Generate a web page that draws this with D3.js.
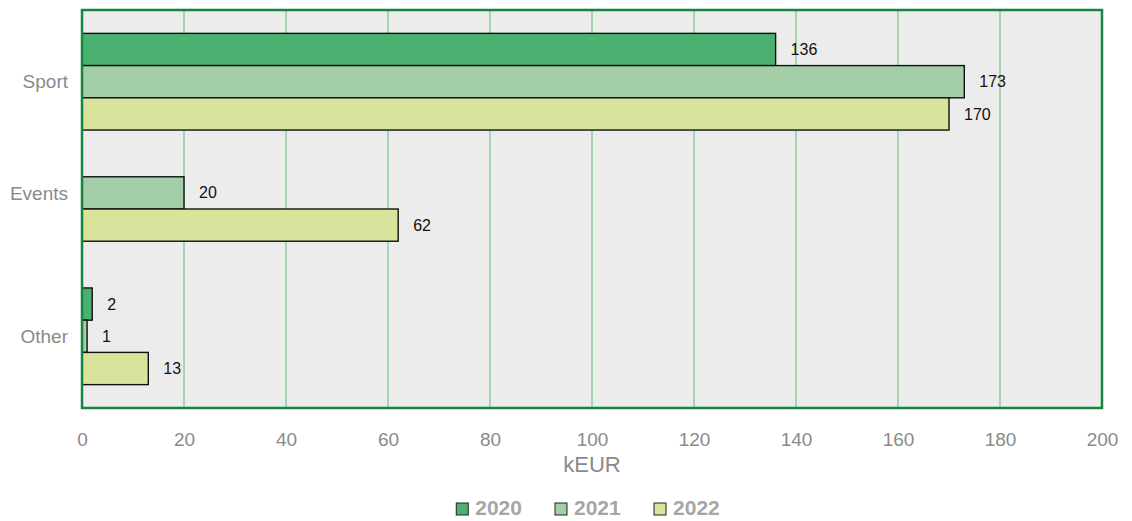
<!DOCTYPE html>
<html>
<head>
<meta charset="utf-8">
<script src="https://cdn.jsdelivr.net/npm/d3@7"></script>
<style>
  html, body { margin: 0; padding: 0; background: #ffffff; }
  svg { display: block; font-family: "Liberation Sans", Arial, sans-serif; }
</style>
</head>
<body>
<svg id="chart" width="1132" height="521"></svg>
<script>
// Sponsorship income by category, in kEUR
const categories = ["Sport", "Events", "Other"];
const years = ["2020", "2021", "2022"];
const values2020 = [136, null, 2];
const values2021 = [173, 20, 1];
const values2022 = [170, 62, 13];
const xTicks = [0, 20, 40, 60, 80, 100, 120, 140, 160, 180, 200];
const seriesColors = ["#4ab170", "#a3cea8", "#d9e39c"];

const seriesValues = [values2020, values2021, values2022];

const width = 1132, height = 521;
const margin = { top: 10, right: 30, bottom: 113, left: 82 };
const plotW = width - margin.left - margin.right;
const plotH = height - margin.top - margin.bottom;

const svg = d3.select("#chart");
const g = svg.append("g").attr("transform", `translate(${margin.left},${margin.top})`);

// Horizontal value scale
const x = d3.scaleLinear().domain([0, 200]).range([0, plotW]);

// Vertical layout: each present bar takes one slot; groups are separated by a gap,
// with half a gap above the first and below the last group.
const gapUnits = 1.45;
const rows = [];
const groups = [];
let cursor = gapUnits / 2;
categories.forEach((cat, ci) => {
  const start = cursor;
  years.forEach((yr, si) => {
    const v = seriesValues[si][ci];
    if (v === null || v === undefined) return;
    rows.push({ category: cat, year: yr, series: si, value: v, slot: cursor });
    cursor += 1;
  });
  groups.push({ category: cat, start: start, end: cursor });
  cursor += gapUnits;
});
const totalUnits = cursor - gapUnits / 2;
const y = d3.scaleLinear().domain([0, totalUnits]).range([0, plotH]);
const bandPx = y(1) - y(0);

// Plot background
g.append("rect")
  .attr("width", plotW).attr("height", plotH)
  .attr("fill", "#ececec");

// Vertical grid lines
g.append("g")
  .selectAll("line")
  .data(xTicks.filter(t => t > 0 && t < 200))
  .join("line")
  .attr("x1", d => x(d)).attr("x2", d => x(d))
  .attr("y1", 0).attr("y2", plotH)
  .attr("stroke", "#8ccf9e")
  .attr("stroke-width", 1.5);

// Bars
g.append("g")
  .selectAll("rect")
  .data(rows)
  .join("rect")
  .attr("x", x(0))
  .attr("y", d => y(d.slot))
  .attr("width", d => x(d.value) - x(0))
  .attr("height", bandPx)
  .attr("fill", d => seriesColors[d.series])
  .attr("stroke", "#111")
  .attr("stroke-width", 1.4);

// Value labels
g.append("g")
  .selectAll("text")
  .data(rows)
  .join("text")
  .attr("x", d => x(d.value) + 15)
  .attr("y", d => y(d.slot + 0.5))
  .attr("dy", "0.35em")
  .attr("font-size", 16)
  .attr("fill", "#111")
  .text(d => d.value);

// Category labels, centred on the full three-slot span ending at each group's last bar
g.append("g")
  .selectAll("text")
  .data(groups)
  .join("text")
  .attr("x", -14)
  .attr("y", d => y(d.end - years.length / 2))
  .attr("dy", "0.35em")
  .attr("text-anchor", "end")
  .attr("font-size", 19)
  .attr("fill", "#8a8a8a")
  .text(d => d.category);

// Plot frame
g.append("rect")
  .attr("width", plotW).attr("height", plotH)
  .attr("fill", "none")
  .attr("stroke", "#178540")
  .attr("stroke-width", 2.5);

// X axis
const xAxis = g.append("g")
  .attr("transform", `translate(0,${plotH})`)
  .call(d3.axisBottom(x).tickValues(xTicks).tickSize(0).tickPadding(25));
xAxis.select(".domain").remove();
xAxis.selectAll("text")
  .attr("font-family", "Liberation Sans, Arial, sans-serif")
  .attr("font-size", 19)
  .attr("fill", "#8a8a8a");

// Axis title
g.append("text")
  .attr("x", plotW / 2)
  .attr("y", plotH + 64)
  .attr("text-anchor", "middle")
  .attr("font-size", 22)
  .attr("fill", "#8a8a8a")
  .text("kEUR");

// Legend
const legend = svg.append("g");
const items = legend.selectAll("g")
  .data(years)
  .join("g");
items.append("rect")
  .attr("width", 12).attr("height", 12)
  .attr("y", -12)
  .attr("fill", (d, i) => seriesColors[i])
  .attr("stroke", "#222")
  .attr("stroke-width", 1);
items.append("text")
  .attr("x", 19)
  .attr("font-size", 21)
  .attr("font-weight", "bold")
  .attr("fill", "#a6a6a6")
  .text(d => d);
let lx = 0;
items.each(function () {
  const w = this.getBBox().width;
  d3.select(this).attr("transform", `translate(${lx},0)`);
  lx += w + 33;
});
const legendW = lx - 33;
legend.attr("transform", `translate(${margin.left + plotW / 2 - legendW / 2 - 4},${515})`);
</script>
</body>
</html>
